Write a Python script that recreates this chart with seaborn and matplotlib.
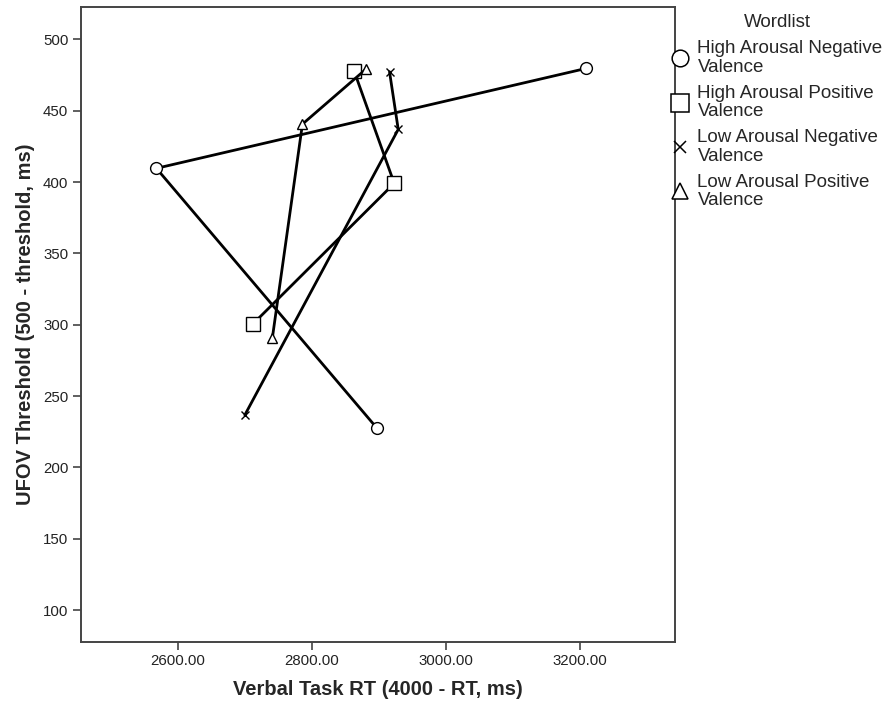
import matplotlib
matplotlib.use("Agg")
import matplotlib.pyplot as plt
from matplotlib.lines import Line2D
from matplotlib.ticker import FormatStrFormatter
import pandas as pd
import seaborn as sns

# Word list groups (legend order)
wordlists = [
    "High Arousal Negative Valence",
    "High Arousal Positive Valence",
    "Low Arousal Negative Valence",
    "Low Arousal Positive Valence",
]
legend_labels = [
    "High Arousal Negative\nValence",
    "High Arousal Positive\nValence",
    "Low Arousal Negative\nValence",
    "Low Arousal Positive\nValence",
]

# Verbal task RT (4000 - RT, ms), in the order the points are joined
rt_han = [3210, 2568, 2897]
rt_hap = [2712, 2923, 2863]
rt_lan = [2700, 2929, 2916]
rt_lap = [2741, 2786, 2881]

# UFOV threshold (500 - threshold, ms)
ufov_han = [479.7, 409.6, 227.6]
ufov_hap = [300.5, 399.1, 478.0]
ufov_lan = [236.7, 436.9, 477.3]
ufov_lap = [290.4, 440.6, 479.2]

x_ticks = [2600, 2800, 3000, 3200]
y_ticks = [100, 150, 200, 250, 300, 350, 400, 450, 500]

rts = [rt_han, rt_hap, rt_lan, rt_lap]
ufovs = [ufov_han, ufov_hap, ufov_lan, ufov_lap]
rows = []
for name, xs, ys in zip(wordlists, rts, ufovs):
    for i, (xv, yv) in enumerate(zip(xs, ys)):
        rows.append({"Wordlist": name, "order": i, "rt": xv, "ufov": yv})
df = pd.DataFrame(rows)

sns.set_theme(style="white")
plt.rcParams["font.family"] = ["Liberation Sans", "DejaVu Sans"]

fig = plt.figure(figsize=(8.88, 7.13), dpi=100)
ax = fig.add_axes([0.0909, 0.0996, 0.6691, 0.891])

markers = {
    wordlists[0]: "o",
    wordlists[1]: "s",
    wordlists[2]: "x",
    wordlists[3]: "^",
}
sizes = {"o": 8.5, "s": 9.5, "x": 5.5, "^": 7.5}

for name in wordlists:
    sub = df[df["Wordlist"] == name]
    m = markers[name]
    sns.lineplot(
        data=sub, x="rt", y="ufov", sort=False, estimator=None,
        color="black", linewidth=2.0, marker=m, markersize=sizes[m],
        markerfacecolor="white", markeredgecolor="black",
        markeredgewidth=1.0, ax=ax, legend=False,
    )

ax.set_xlim(2455, 3342)
ax.set_ylim(77.6, 522.9)
ax.set_xticks(x_ticks)
ax.set_yticks(y_ticks)
ax.xaxis.set_major_formatter(FormatStrFormatter("%.2f"))

for side in ["left", "bottom", "right", "top"]:
    ax.spines[side].set_color("#444444")
    ax.spines[side].set_linewidth(1.4)
ax.tick_params(axis="both", which="major", direction="out", length=6,
               width=1.2, color="#444444", labelsize=10.8,
               labelcolor="#222222", left=True, bottom=True, pad=3)

ax.set_xlabel("Verbal Task RT (4000 - RT, ms)", fontsize=14.5,
              fontweight="bold", labelpad=8)
ax.set_ylabel("UFOV Threshold (500 - threshold, ms)", fontsize=14.5,
              fontweight="bold", labelpad=6)

legend_ms = {"o": 12, "s": 13, "x": 9, "^": 11}
handles = [
    Line2D([], [], linestyle="none", marker=markers[n],
           markersize=legend_ms[markers[n]],
           markerfacecolor="white", markeredgecolor="black",
           markeredgewidth=1.1)
    for n in wordlists
]
leg = fig.legend(handles, legend_labels, title="Wordlist",
                 loc="upper left", bbox_to_anchor=(0.758, 0.980),
                 frameon=False, fontsize=13.5, title_fontsize=13.5,
                 handlelength=0.75, handletextpad=0.55, labelspacing=0.49,
                 borderaxespad=0, borderpad=0)
for t in leg.get_texts():
    t.set_linespacing(1.1)

fig.savefig("out.png", dpi=100)
